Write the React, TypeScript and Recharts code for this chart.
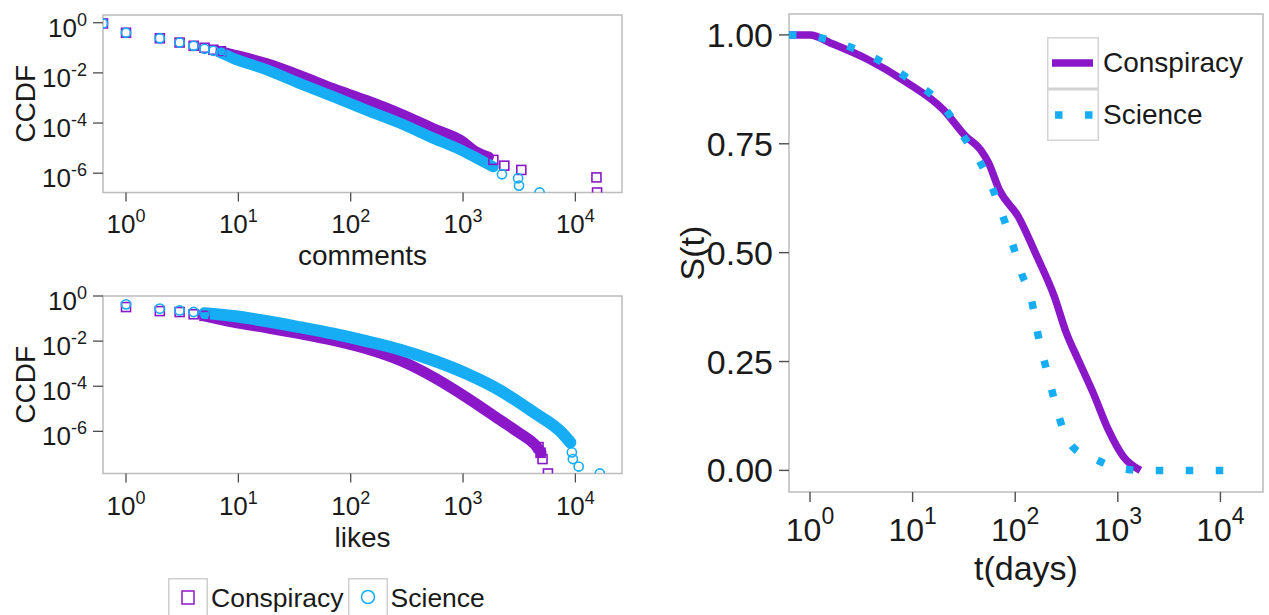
import { ComposedChart, Line, Scatter, XAxis, YAxis, ReferenceArea, Legend, Label } from 'recharts'

const PURPLE = '#8a17c8'
const BLUE = '#17adf4'
const TEXT = '#1a1a1a'
const TICK = '#4d4d4d'
const BORDER = '#bcbcbc'
const FONT = '"Liberation Sans", Arial, Helvetica, sans-serif'

const seriesNames = ['Conspiracy', 'Science']
const logTicks = [1, 10, 100, 1000, 10000]
const ccdfTicks = [1e-6, 1e-4, 1e-2, 1]
const survivalTicks = [0, 0.25, 0.5, 0.75, 1]

// comments CCDF: single markers (x = 0 sits on the left edge) and the dense middle band
const commentsConspiracyPoints = [
  { x: 0.624, y: 0.933 }, { x: 1, y: 0.398 }, { x: 2, y: 0.24 }, { x: 3, y: 0.162 },
  { x: 4, y: 0.12 }, { x: 5, y: 0.1 }, { x: 6, y: 0.0832 }, { x: 7, y: 0.0724 },
  { x: 1860, y: 3.4e-6 }, { x: 2330, y: 2.0e-6 }, { x: 3300, y: 1.35e-6 },
  { x: 15400, y: 6.8e-7 }, { x: 15600, y: 1.7e-7 },
]
const commentsConspiracyBand = [
  { x: 7, y: 0.0724 }, { x: 9, y: 0.055 }, { x: 18, y: 0.024 }, { x: 35, y: 0.00832 },
  { x: 70, y: 0.00245 }, { x: 138, y: 8.3e-4 }, { x: 276, y: 2.45e-4 }, { x: 547, y: 6.2e-5 },
  { x: 950, y: 2.14e-5 }, { x: 1320, y: 7.2e-6 }, { x: 1700, y: 4.5e-6 },
]
const commentsSciencePoints = [
  { x: 0.624, y: 0.933 }, { x: 1, y: 0.398 }, { x: 2, y: 0.24 }, { x: 3, y: 0.162 },
  { x: 4, y: 0.12 }, { x: 5, y: 0.0912 }, { x: 6, y: 0.0759 }, { x: 7, y: 0.0631 },
  { x: 2220, y: 9.1e-7 }, { x: 3090, y: 6.3e-7 }, { x: 3150, y: 3.2e-7 }, { x: 4800, y: 1.7e-7 },
]
const commentsScienceBand = [
  { x: 7, y: 0.0631 }, { x: 9, y: 0.038 }, { x: 18, y: 0.0132 }, { x: 35, y: 0.0038 },
  { x: 70, y: 0.00112 }, { x: 138, y: 3.3e-4 }, { x: 276, y: 9.8e-5 }, { x: 547, y: 2.45e-5 },
  { x: 950, y: 8.5e-6 }, { x: 1320, y: 4.0e-6 }, { x: 1860, y: 1.8e-6 },
]

// likes CCDF
const likesConspiracyPoints = [
  { x: 1, y: 0.324 }, { x: 2, y: 0.214 }, { x: 3, y: 0.195 }, { x: 4, y: 0.155 }, { x: 5, y: 0.132 },
  { x: 4700, y: 2.0e-7 }, { x: 4900, y: 1.12e-7 }, { x: 5100, y: 5.9e-8 }, { x: 5700, y: 1.35e-8 },
]
const likesConspiracyBand = [
  { x: 5, y: 0.132 }, { x: 9, y: 0.0692 }, { x: 18, y: 0.0389 }, { x: 35, y: 0.0214 },
  { x: 70, y: 0.0107 }, { x: 138, y: 0.00457 }, { x: 276, y: 0.00138 }, { x: 547, y: 2.51e-4 },
  { x: 1080, y: 3.16e-5 }, { x: 2140, y: 3.16e-6 }, { x: 3230, y: 7.9e-7 }, { x: 4290, y: 2.8e-7 },
  { x: 4940, y: 1.17e-7 },
]
const likesSciencePoints = [
  { x: 1, y: 0.427 }, { x: 2, y: 0.275 }, { x: 3, y: 0.229 }, { x: 4, y: 0.195 }, { x: 5, y: 0.174 },
  { x: 9300, y: 1.17e-7 }, { x: 9500, y: 5.9e-8 }, { x: 10700, y: 2.75e-8 }, { x: 16500, y: 1.35e-8 },
]
const likesScienceBand = [
  { x: 5, y: 0.174 }, { x: 9, y: 0.129 }, { x: 18, y: 0.0759 }, { x: 35, y: 0.0417 },
  { x: 70, y: 0.0214 }, { x: 138, y: 0.01 }, { x: 276, y: 0.00417 }, { x: 547, y: 0.00138 },
  { x: 1080, y: 3.55e-4 }, { x: 2140, y: 6.46e-5 }, { x: 4260, y: 6.9e-6 }, { x: 7350, y: 1.0e-6 },
  { x: 9020, y: 3.2e-7 },
]

// survival S(t)
const survivalConspiracy = [
  { t: 0.624, s: 1 }, { t: 1, s: 1 }, { t: 1.6, s: 0.981 }, { t: 3.7, s: 0.943 }, { t: 8.5, s: 0.893 },
  { t: 20, s: 0.828 }, { t: 33, s: 0.767 }, { t: 46, s: 0.736 }, { t: 55, s: 0.706 }, { t: 70, s: 0.644 },
  { t: 107, s: 0.583 }, { t: 163, s: 0.491 }, { t: 240, s: 0.4 }, { t: 316, s: 0.315 }, { t: 411, s: 0.254 },
  { t: 575, s: 0.178 }, { t: 810, s: 0.093 }, { t: 1130, s: 0.032 }, { t: 1660, s: 0 },
]
const survivalScience = [
  { t: 0.624, s: 1 }, { t: 0.9, s: 1 }, { t: 1.33, s: 0.992 }, { t: 3.7, s: 0.954 }, { t: 8.5, s: 0.904 },
  { t: 20, s: 0.835 }, { t: 33, s: 0.759 }, { t: 46, s: 0.706 }, { t: 59, s: 0.652 }, { t: 76, s: 0.583 },
  { t: 98, s: 0.507 }, { t: 115, s: 0.453 }, { t: 144, s: 0.392 }, { t: 163, s: 0.323 }, { t: 210, s: 0.216 },
  { t: 248, s: 0.151 }, { t: 294, s: 0.093 }, { t: 378, s: 0.05 }, { t: 600, s: 0.026 }, { t: 1000, s: 0.0055 },
  { t: 1860, s: 0 }, { t: 17000, s: 0 },
]

const X_DOMAIN: [number, number] = [0.624, 26000]
const COMMENTS_Y: [number, number] = [1.7e-7, 2.03]
const LIKES_Y: [number, number] = [1.35e-8, 1]
const SURV_Y: [number, number] = [-0.0496, 1.048]

const PowTick = (props: any) => {
  const { x, y, payload, anchor, fs, sfs, rise, dy } = props
  const exp = Math.round(Math.log10(payload.value))
  return (
    <text x={x} y={y + dy} textAnchor={anchor} fill={TEXT} fontFamily={FONT}>
      <tspan fontSize={fs}>10</tspan>
      <tspan fontSize={sfs} dy={-rise}>{exp}</tspan>
    </text>
  )
}

const xTitle = (text: string, offset: number, size: number) => (p: any) => {
  const vb = p.viewBox
  return (
    <text x={vb.x + vb.width / 2} y={vb.y + offset} textAnchor="middle" fontSize={size} fontFamily={FONT} fill={TEXT}>
      {text}
    </text>
  )
}

const yTitle = (text: string, cxOff: number, size: number) => (p: any) => {
  const vb = p.viewBox
  const cx = vb.x + cxOff
  const cy = vb.y + vb.height / 2
  return (
    <text x={cx} y={cy} transform={`rotate(-90 ${cx} ${cy})`} textAnchor="middle" dominantBaseline="central"
      fontSize={size} fontFamily={FONT} fill={TEXT}>
      {text}
    </text>
  )
}

const OpenSquare = (p: any) => (
  <rect x={p.cx - 4.5} y={p.cy - 4.5} width={9} height={9} fill="none" stroke={PURPLE} strokeWidth={1.6} />
)
const OpenCircle = (p: any) => (
  <circle cx={p.cx} cy={p.cy} r={4.6} fill="none" stroke={BLUE} strokeWidth={1.6} />
)

const ScatterLegend = () => (
  <div style={{ display: 'flex', alignItems: 'center', height: 40, fontFamily: FONT, fontSize: 26.5, color: TEXT }}>
    {seriesNames.map((name, i) => (
      <div key={name} style={{ display: 'flex', alignItems: 'center' }}>
        <svg width={40} height={40}>
          <rect x={0.75} y={0.75} width={38.5} height={38.5} fill="#fff" stroke="#cfcfcf" strokeWidth={1.5} />
          {i === 0 ? (
            <rect x={14} y={13} width={12} height={13} fill="none" stroke={PURPLE} strokeWidth={1.5} />
          ) : (
            <circle cx={20} cy={19} r={6.5} fill="none" stroke={BLUE} strokeWidth={1.5} />
          )}
        </svg>
        <span style={{ marginLeft: 3, marginRight: 4, whiteSpace: 'nowrap' }}>{name}</span>
      </div>
    ))}
  </div>
)

const survivalStyles = [
  { name: seriesNames[0], color: PURPLE, dash: undefined },
  { name: seriesNames[1], color: BLUE, dash: '7.5 22.5' },
]

const SurvivalLegend = () => (
  <div style={{ fontFamily: FONT, fontSize: 28, color: TEXT }}>
    {survivalStyles.map((s) => (
      <div key={s.name} style={{ display: 'flex', alignItems: 'center', height: 52 }}>
        <svg width={52} height={52}>
          <rect x={0.75} y={0.75} width={50.5} height={50.5} fill="#fff" stroke="#d4d4d4" strokeWidth={1.5} />
          <line x1={s.dash ? 8 : 5} x2={s.dash ? 48 : 46} y1={26} y2={26} stroke={s.color} strokeWidth={7.5} strokeDasharray={s.dash} />
        </svg>
        <span style={{ marginLeft: 4, whiteSpace: 'nowrap' }}>{s.name}</span>
      </div>
    ))}
  </div>
)

const CcdfPanel = ({ height, top, yDomain, xLabel, xTickDy, titleOff, conspiracyPts, conspiracyBand, sciencePts, scienceBand, bandW, legend }: any) => (
  <div style={{ position: 'absolute', left: 0, top }}>
    <ComposedChart width={640} height={height} margin={{ top: top === 0 ? 15 : 16, right: 18, left: 0, bottom: 0 }}>
      <XAxis dataKey="x" type="number" scale="log" domain={X_DOMAIN} allowDataOverflow ticks={logTicks} interval={0}
        axisLine={false} tickSize={9} tickMargin={0} tickLine={{ stroke: TICK, strokeWidth: 1.3 }}
        height={height - (top === 0 ? 15 : 16) - 177.5}
        tick={<PowTick anchor="middle" fs={26} sfs={18} rise={11} dy={xTickDy} />}>
        <Label content={xTitle(xLabel, titleOff, 28)} />
      </XAxis>
      <YAxis dataKey="y" type="number" scale="log" domain={yDomain} allowDataOverflow ticks={ccdfTicks} interval={0}
        width={103} axisLine={false} tickSize={10} tickMargin={6} tickLine={{ stroke: TICK, strokeWidth: 1.3 }}
        tick={<PowTick anchor="end" fs={26} sfs={18} rise={11} dy={14} />}>
        <Label content={yTitle('CCDF', 25, 28)} />
      </YAxis>
      <Line data={conspiracyBand} dataKey="y" type="monotone" stroke={PURPLE} strokeWidth={bandW[0]} strokeLinecap="round"
        dot={false} activeDot={false} isAnimationActive={false} />
      <Scatter data={conspiracyPts} shape={OpenSquare} isAnimationActive={false} />
      <Line data={scienceBand} dataKey="y" type="monotone" stroke={BLUE} strokeWidth={bandW[1]} strokeLinecap="round"
        dot={false} activeDot={false} isAnimationActive={false} />
      <Scatter data={sciencePts} shape={OpenCircle} isAnimationActive={false} />
      <ReferenceArea x1={X_DOMAIN[0]} x2={X_DOMAIN[1]} y1={yDomain[0]} y2={yDomain[1]} fill="none"
        stroke={BORDER} strokeWidth={1.5} ifOverflow="visible" />
      {legend && (
        <Legend layout="vertical" align="center" verticalAlign="middle"
          wrapperStyle={{ left: 168, top: 298, width: 340 }} content={() => <ScatterLegend />} />
      )}
    </ComposedChart>
  </div>
)

export default function App() {
  return (
    <div style={{ position: 'absolute', left: 0, top: 0, width: 1269, height: 615, overflow: 'hidden', background: '#fff' }}>
      <CcdfPanel height={270} top={0} yDomain={COMMENTS_Y} xLabel="comments" xTickDy={31} titleOff={72}
        conspiracyPts={commentsConspiracyPoints} conspiracyBand={commentsConspiracyBand}
        sciencePts={commentsSciencePoints} scienceBand={commentsScienceBand} bandW={[10, 11]} />
      <CcdfPanel height={335} top={280} yDomain={LIKES_Y} xLabel="likes" xTickDy={32} titleOff={73}
        conspiracyPts={likesConspiracyPoints} conspiracyBand={likesConspiracyBand}
        sciencePts={likesSciencePoints} scienceBand={likesScienceBand} bandW={[11, 12]} legend />

      <div style={{ position: 'absolute', left: 670, top: 0 }}>
        <ComposedChart width={599} height={615} margin={{ top: 14, right: 6, left: 0, bottom: 0 }}>
          <XAxis dataKey="t" type="number" scale="log" domain={X_DOMAIN} allowDataOverflow ticks={logTicks} interval={0}
            height={123} axisLine={false} tickSize={10} tickMargin={0} tickLine={{ stroke: TICK, strokeWidth: 1.4 }}
            tick={<PowTick anchor="middle" fs={32} sfs={23} rise={17} dy={39} />}>
            <Label content={xTitle('t(days)', 88, 34)} />
          </XAxis>
          <YAxis dataKey="s" type="number" domain={SURV_Y} allowDataOverflow ticks={survivalTicks} interval={0}
            width={119} axisLine={false} tickSize={10} tickMargin={6} tickLine={{ stroke: TICK, strokeWidth: 1.4 }}
            tickFormatter={(v: number) => v.toFixed(2)}
            tick={{ fontSize: 34, fill: TEXT, fontFamily: FONT }}>
            <Label content={yTitle('S(t)', 22, 34)} />
          </YAxis>
          <Line data={survivalConspiracy} dataKey="s" type="monotone" stroke={PURPLE} strokeWidth={7.5}
            strokeLinejoin="round" dot={false} activeDot={false} isAnimationActive={false} />
          <Line data={survivalScience} dataKey="s" type="monotone" stroke={BLUE} strokeWidth={7.5}
            strokeDasharray="7.5 22.5" strokeLinecap="butt" dot={false} activeDot={false} isAnimationActive={false} />
          <ReferenceArea x1={X_DOMAIN[0]} x2={X_DOMAIN[1]} y1={SURV_Y[0]} y2={SURV_Y[1]} fill="none"
            stroke={BORDER} strokeWidth={1.5} ifOverflow="visible" />
          <Legend layout="vertical" align="center" verticalAlign="middle"
            wrapperStyle={{ left: 377, top: 37, width: 220 }} content={() => <SurvivalLegend />} />
        </ComposedChart>
      </div>
    </div>
  )
}
